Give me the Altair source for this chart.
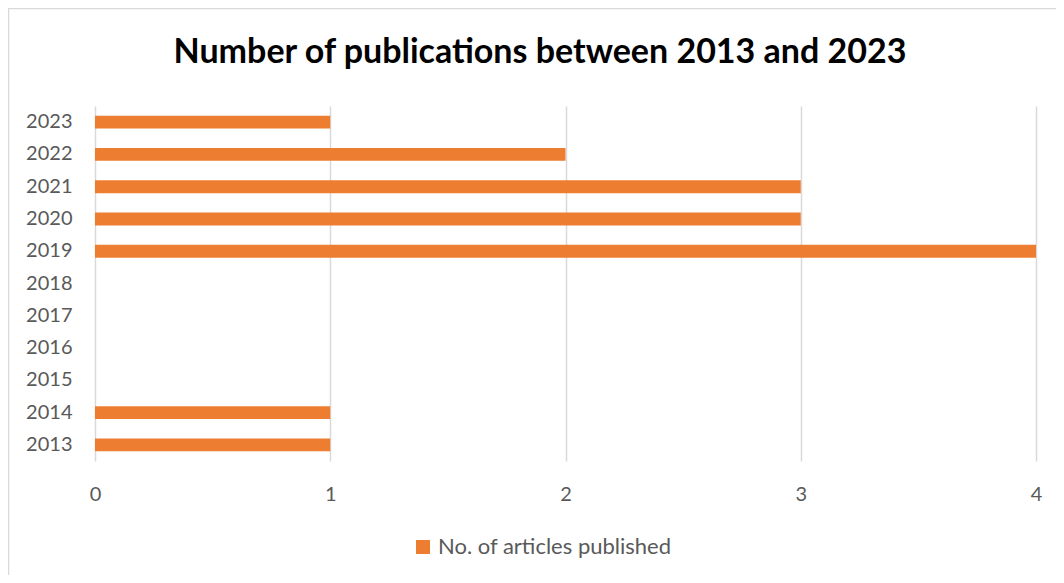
import altair as alt
import pandas as pd

years = ["2013", "2014", "2015", "2016", "2017", "2018", "2019", "2020", "2021", "2022", "2023"]
counts = [1, 1, 0, 0, 0, 0, 4, 3, 3, 2, 1]
series_name = "No. of articles published"
x_ticks = [0, 1, 2, 3, 4]
title_text = "Number of publications between 2013 and 2023"

df = pd.DataFrame({"year": years, "count": counts, "series": [series_name] * len(years)})

FONT = "Lato"
GRAY = "#595959"
ORANGE = "#ED7D31"
BORDER = "#D9D9D9"

bars = alt.Chart(df).mark_bar(color=ORANGE).encode(
    x=alt.X("count:Q",
            scale=alt.Scale(domain=[0, 4], nice=False),
            axis=alt.Axis(values=x_ticks, title=None, domain=False, ticks=False,
                          grid=True, gridColor="#D9D9D9", gridWidth=1.5,
                          labelFont=FONT, labelFontSize=20, labelColor=GRAY,
                          labelPadding=23, labelFlush=False, format="d")),
    y=alt.Y("year:O",
            sort=list(reversed(years)),
            scale=alt.Scale(paddingInner=0.6, paddingOuter=0.3),
            axis=alt.Axis(title=None, domain=False, ticks=False, grid=False,
                          labelFont=FONT, labelFontSize=20, labelColor=GRAY,
                          labelPadding=23)),
    color=alt.Color("series:N",
                    scale=alt.Scale(domain=[series_name], range=[ORANGE]),
                    legend=alt.Legend(title=None, orient="none", legendX=317, legendY=430,
                                      symbolType="square", symbolSize=196,
                                      symbolStrokeWidth=0, padding=0,
                                      labelFont=FONT, labelFontSize=22, labelLimit=0,
                                      labelColor=GRAY, labelOffset=4)),
)

one = alt.Data(values=[{"t": title_text}])

top_line = alt.Chart(one).mark_rule(color=BORDER, strokeWidth=1.5, clip=False).encode(
    x=alt.value(-87), x2=alt.value(1000), y=alt.value(-97.5),
)
left_line = alt.Chart(one).mark_rule(color=BORDER, strokeWidth=1.5, clip=False).encode(
    x=alt.value(-86.5), y=alt.value(-98), y2=alt.value(600),
)

title = alt.Chart(one).mark_text(
    font=FONT, fontSize=34, fontWeight="bold", color="black",
    align="center", baseline="alphabetic",
).encode(
    x=alt.value(445), y=alt.value(-43), text="t:N",
)

chart = alt.layer(top_line, left_line, bars, title).properties(
    width=941,
    height=355,
    autosize=alt.AutoSizeParams(type="none"),
    padding={"left": 87, "top": 98, "right": 20, "bottom": 114},
).configure_view(stroke=None)

chart.save("out.html", embed_options={"renderer": "svg", "actions": False})
